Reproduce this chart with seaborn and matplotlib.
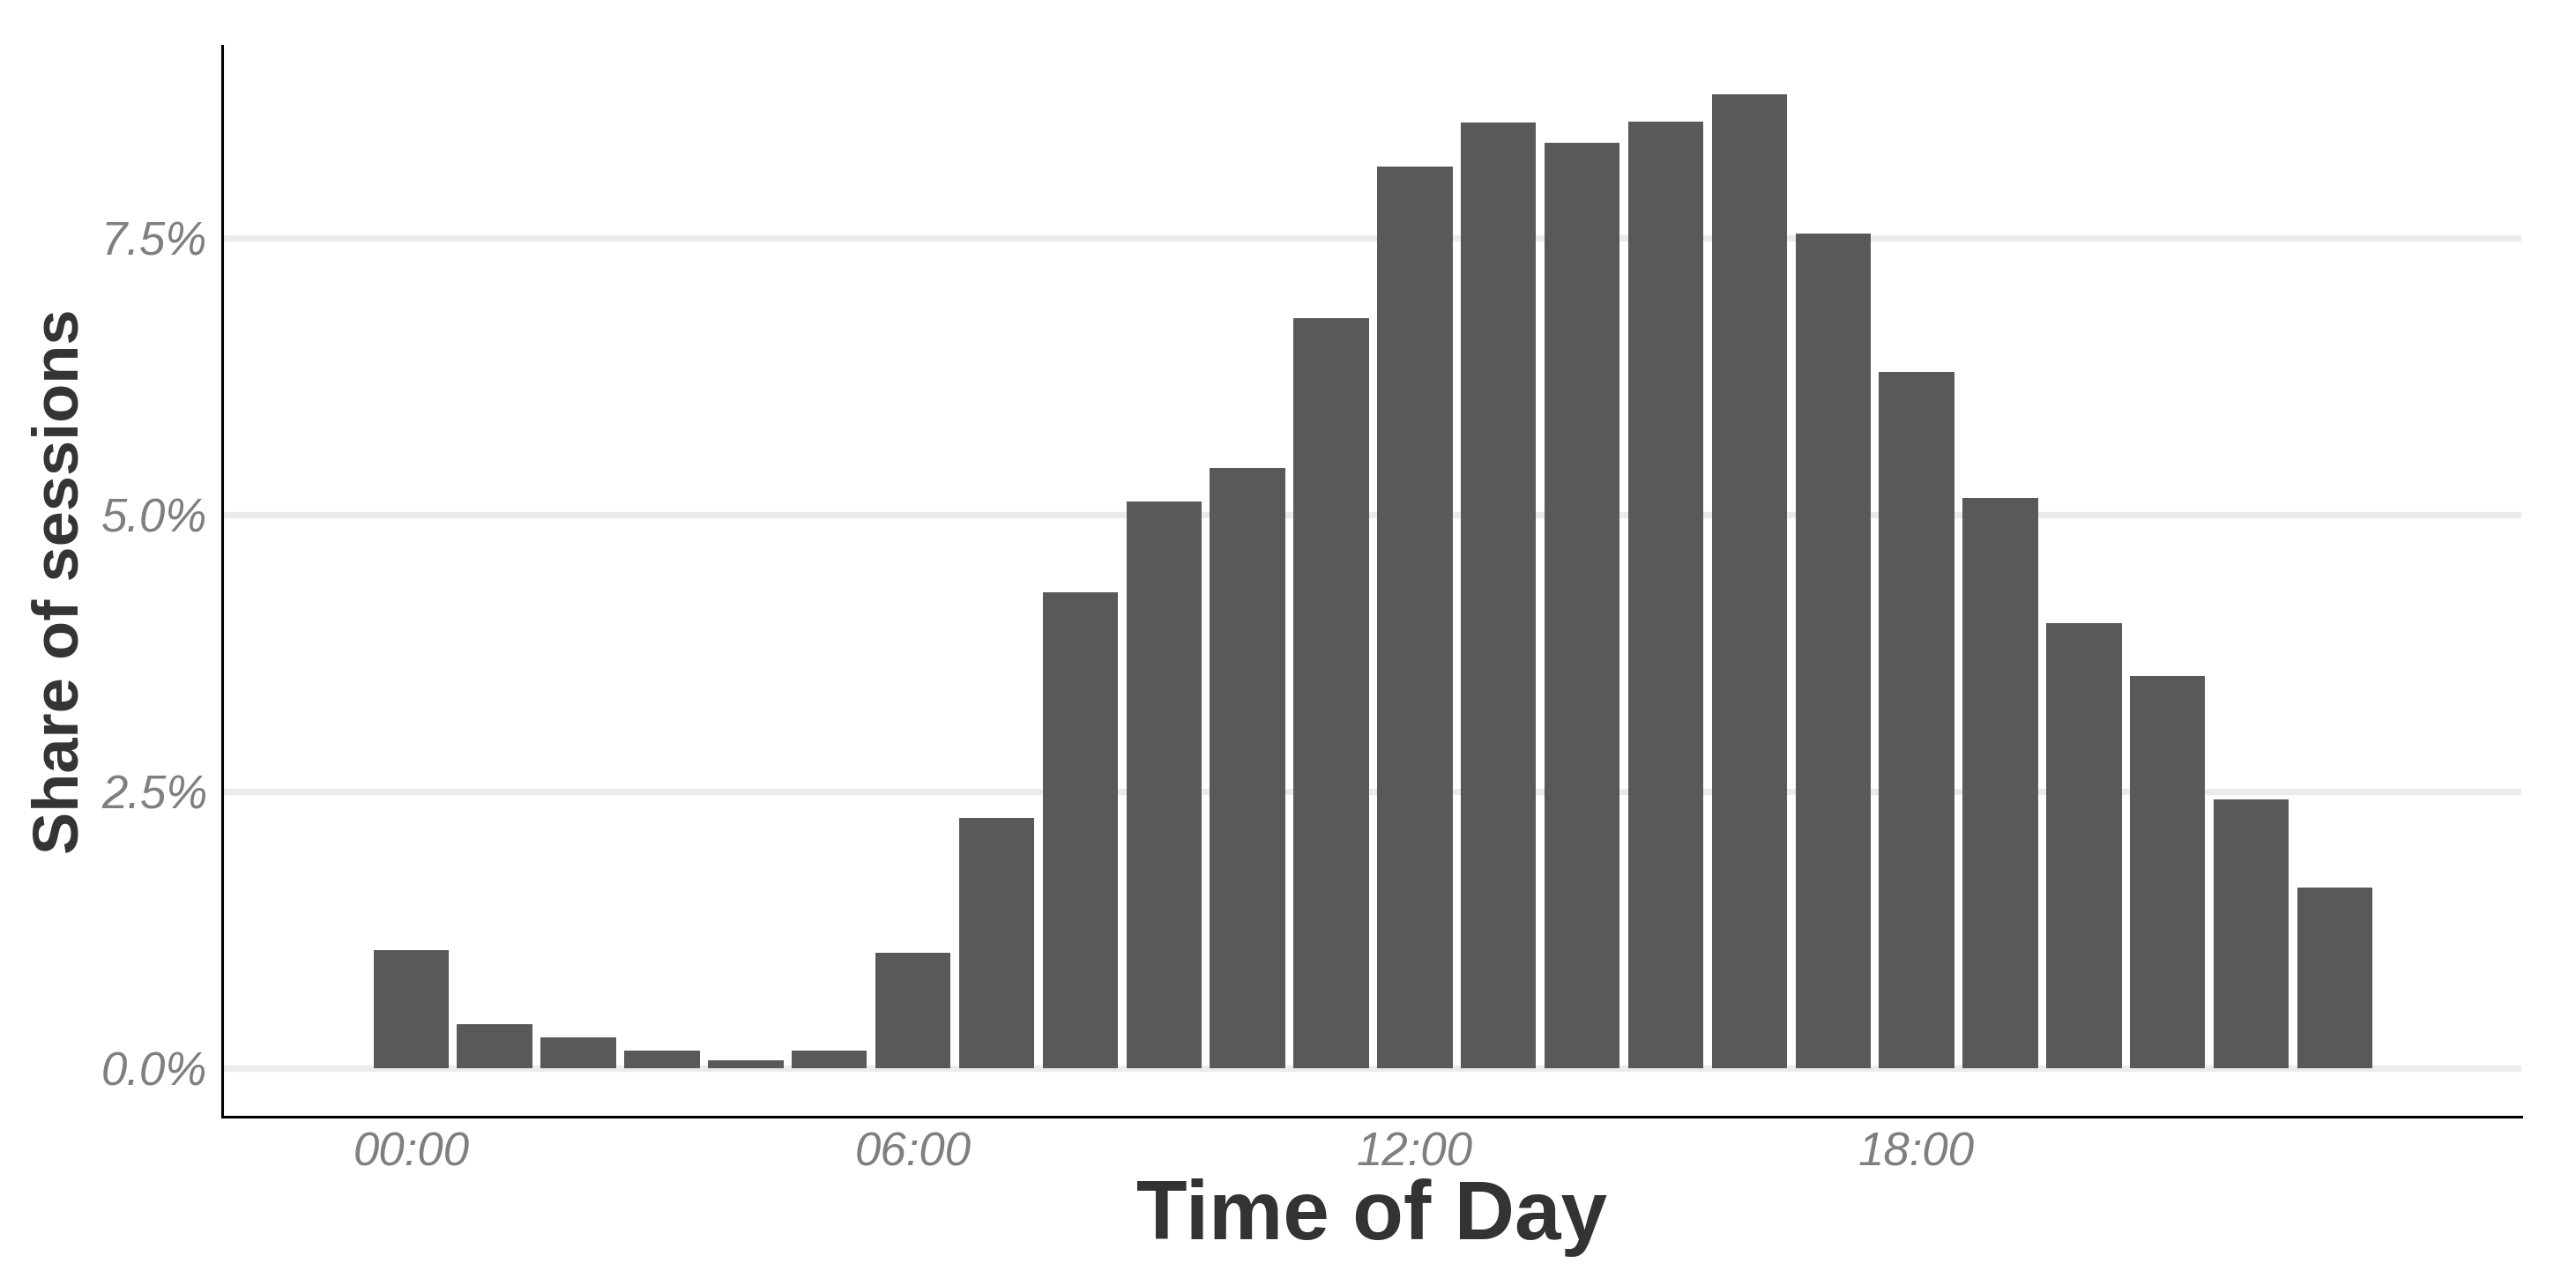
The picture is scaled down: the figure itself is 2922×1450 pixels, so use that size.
import numpy as np
import pandas as pd
import seaborn as sns
import matplotlib.pyplot as plt
from matplotlib.ticker import PercentFormatter

# share of sessions per hour of day (percent)
hours = list(range(24))
share = [1.07, 0.40, 0.28, 0.16, 0.07, 0.16, 1.04, 2.26, 4.30, 5.12, 5.42, 6.77,
         8.14, 8.54, 8.36, 8.55, 8.79, 7.54, 6.29, 5.15, 4.02, 3.54, 2.43, 1.63]
tick_hours = [0, 6, 12, 18]
tick_labels = ["00:00", "06:00", "12:00", "18:00"]

df = pd.DataFrame({"hour": hours, "share": share})

sns.set_style("white")
plt.rcParams['font.family'] = ['Liberation Sans', 'DejaVu Sans']

fig = plt.figure(figsize=(14.61, 7.25), dpi=200)
ax = fig.add_axes([0.0862, 0.126, 0.8926, 0.838])

sns.barplot(data=df, x="hour", y="share", native_scale=True, width=0.9,
            color="#595959", saturation=1, errorbar=None, linewidth=0, ax=ax)

ax.set_xlim(-2.26, 25.23)
ax.set_ylim(-0.44, 9.23)
ax.set_yticks([0, 2.5, 5.0, 7.5])
ax.yaxis.set_major_formatter(PercentFormatter(xmax=100, decimals=1))
ax.set_xticks(tick_hours)
ax.set_xticklabels(tick_labels)

ax.yaxis.grid(True, color="#EBEBEB", lw=2.6)
ax.xaxis.grid(False)
ax.set_axisbelow(True)

for s in ["top", "right"]:
    ax.spines[s].set_visible(False)
for s in ["left", "bottom"]:
    ax.spines[s].set_color("#000000")
    ax.spines[s].set_linewidth(1.1)

ax.tick_params(axis="both", length=3, width=1, color="#333333", direction="out",
               labelsize=19, labelcolor="#7F7F7F", pad=3)
for lab in ax.get_xticklabels() + ax.get_yticklabels():
    lab.set_fontstyle("italic")

ax.set_xlabel("Time of Day", fontsize=34, fontweight="bold", color="#333333", labelpad=1)
ax.set_ylabel("Share of sessions", fontsize=26, fontweight="bold", color="#333333", labelpad=4)

fig.savefig("out.png", dpi=200, facecolor="white")
